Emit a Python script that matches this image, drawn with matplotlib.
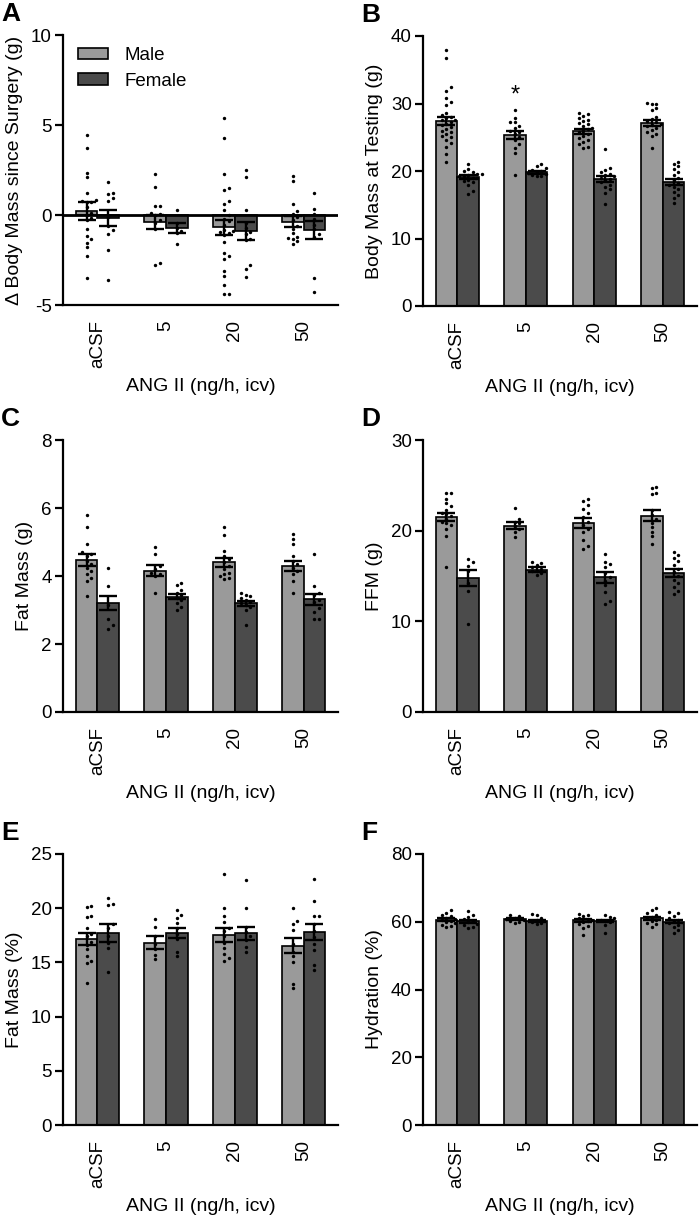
import matplotlib.pyplot as plt
import numpy as np
from matplotlib.patches import Patch

plt.rcParams['font.family'] = ['Liberation Sans', 'DejaVu Sans']
plt.rcParams['axes.unicode_minus'] = False

doses = ['aCSF', '5', '20', '50']
male_color = '#9a9a9a'
female_color = '#4b4b4b'

# A: change in body mass since surgery (g)
a_male_mean = [0.22, -0.38, -0.68, -0.38]
a_male_sem = [0.5, 0.4, 0.42, 0.3]
a_female_mean = [-0.18, -0.72, -0.88, -0.85]
a_female_sem = [0.45, 0.26, 0.5, 0.5]
a_male_pts = [
    [4.45, 3.75, 2.35, 2.1, 1.25, 0.85, 0.8, 0.75, 0.7, 0.45, 0.1, 0.0, -0.15, -0.25, -0.75, -1.15, -1.35, -1.55, -1.8, -2.3, -3.5],
    [2.3, 1.55, 0.5, 0.5, 0.1, 0.05, 0.0, -0.25, -0.45, -0.8, -2.65, -2.8],
    [5.4, 4.3, 2.3, 1.5, 1.4, 0.8, 0.6, 0.3, 0.0, -0.2, -0.35, -0.55, -0.85, -0.9, -0.95, -1.0, -1.1, -1.5, -2.1, -2.3, -2.45, -3.1, -3.4, -3.9, -4.4, -4.4],
    [2.15, 1.9, 0.6, 0.25, 0.05, -0.1, -0.25, -0.6, -0.75, -1.0, -1.2, -1.3, -1.35, -1.45, -1.6],
]
a_female_pts = [
    [1.85, 1.25, 1.15, 0.95, 0.8, -0.1, -0.6, -0.85, -1.05, -1.95, -3.6],
    [0.3, -0.45, -0.7, -0.9, -1.0, -1.6],
    [2.5, 2.1, 0.3, -0.45, -0.7, -0.95, -1.05, -1.35, -1.4, -2.8, -3.0, -3.45],
    [1.2, 0.35, 0.05, -0.2, -0.55, -0.8, -1.05, -1.2, -3.5, -4.3],
]

# B: body mass at testing (g)
b_male_mean = [27.4, 25.3, 25.9, 27.1]
b_male_sem = [0.65, 0.6, 0.35, 0.4]
b_female_mean = [19.05, 19.8, 18.85, 18.4]
b_female_sem = [0.3, 0.2, 0.45, 0.45]
b_male_pts = [
    [38.0, 36.7, 32.4, 31.8, 30.8, 30.2, 29.8, 28.6, 28.3, 28.0, 27.8, 27.6, 27.5, 27.3, 27.0, 26.8, 26.5, 26.2, 26.0, 25.8, 25.5, 25.2, 25.0, 24.6, 24.2, 23.6, 22.5, 21.3],
    [29.1, 27.9, 27.3, 27.2, 26.7, 26.3, 26.0, 25.8, 25.5, 25.1, 24.6, 24.0, 23.4, 22.6, 19.4],
    [28.6, 28.4, 28.1, 27.9, 27.6, 27.4, 27.1, 26.9, 26.7, 26.4, 26.2, 26.0, 25.8, 25.5, 25.2, 24.9, 24.6, 24.3, 24.0, 23.6, 23.4],
    [30.1, 30.0, 29.9, 29.3, 29.1, 28.0, 27.7, 27.4, 27.2, 27.0, 26.8, 26.6, 26.4, 26.1, 25.8, 25.5, 25.2, 23.4],
]
b_female_pts = [
    [21.0, 20.3, 20.0, 19.8, 19.6, 19.5, 19.4, 19.3, 19.2, 19.0, 18.9, 18.7, 18.5, 18.3, 18.0, 17.0, 16.6],
    [21.0, 20.7, 20.4, 20.2, 20.0, 19.9, 19.7, 19.5, 19.4, 19.3, 19.2],
    [23.2, 20.5, 20.2, 19.9, 19.6, 19.4, 19.2, 19.0, 18.8, 18.6, 18.3, 18.0, 17.7, 17.3, 16.8, 15.1],
    [21.4, 21.0, 20.7, 20.3, 19.8, 19.4, 19.0, 18.6, 18.2, 17.9, 17.6, 17.3, 16.9, 16.5, 16.0, 15.3],
]

# C: fat mass (g)
c_male_mean = [4.47, 4.16, 4.4, 4.3]
c_male_sem = [0.17, 0.17, 0.13, 0.15]
c_female_mean = [3.2, 3.39, 3.2, 3.31]
c_female_sem = [0.2, 0.08, 0.07, 0.17]
c_male_pts = [
    [5.8, 5.45, 4.95, 4.7, 4.65, 4.6, 4.45, 4.35, 4.25, 4.15, 4.05, 3.95, 3.85, 3.4],
    [4.85, 4.65, 4.3, 4.2, 4.1, 4.05, 4.0, 3.5],
    [5.45, 5.2, 4.75, 4.6, 4.5, 4.4, 4.3, 4.2, 4.1, 4.05, 4.0, 3.95, 3.9],
    [5.25, 5.1, 4.95, 4.6, 4.45, 4.35, 4.25, 4.15, 4.05, 3.85, 3.5],
]
c_female_pts = [
    [4.25, 3.7, 3.15, 2.75, 2.55, 2.45],
    [3.8, 3.75, 3.6, 3.5, 3.45, 3.35, 3.3, 3.2, 3.1, 3.0],
    [3.5, 3.45, 3.4, 3.35, 3.3, 3.25, 3.2, 3.15, 3.1, 3.0, 2.55],
    [4.65, 3.7, 3.5, 3.45, 3.3, 3.25, 3.05, 2.95, 2.75, 2.75],
]

# D: fat-free mass (g)
d_male_mean = [21.5, 20.55, 20.85, 21.65]
d_male_sem = [0.45, 0.4, 0.55, 0.6]
d_female_mean = [14.75, 15.7, 14.85, 15.3]
d_female_sem = [0.9, 0.25, 0.6, 0.45]
d_male_pts = [
    [24.2, 24.2, 23.5, 23.0, 22.7, 22.3, 22.0, 21.8, 21.6, 21.3, 21.0, 20.8, 20.6, 20.2, 19.4, 16.0],
    [22.5, 21.3, 21.0, 20.8, 20.5, 20.2, 19.8, 19.3],
    [23.5, 23.3, 22.8, 22.4, 21.9, 21.5, 21.0, 20.6, 20.2, 19.8, 19.0, 18.3, 18.0],
    [24.8, 24.7, 24.2, 24.0, 22.3, 21.7, 21.3, 20.9, 20.4, 19.9, 19.4, 18.5],
]
d_female_pts = [
    [16.9, 16.5, 16.1, 15.5, 14.2, 13.4, 9.7],
    [16.5, 16.4, 16.2, 16.0, 15.8, 15.6, 15.5, 15.3, 15.1],
    [17.4, 16.5, 16.3, 16.0, 15.3, 14.9, 14.5, 14.0, 13.2, 12.2, 11.9],
    [17.6, 17.3, 17.0, 16.6, 16.2, 15.8, 15.4, 15.0, 14.6, 14.2, 13.8, 13.4, 13.0],
]

# E: fat mass (%)
e_male_mean = [17.15, 16.8, 17.5, 16.55]
e_male_sem = [0.55, 0.6, 0.65, 0.7]
e_female_mean = [17.7, 17.7, 17.7, 17.8]
e_female_sem = [0.85, 0.45, 0.6, 0.75]
e_male_pts = [
    [20.2, 20.1, 19.3, 19.2, 18.2, 17.6, 17.4, 16.9, 16.6, 16.2, 15.6, 15.1, 14.9, 13.1],
    [19.0, 18.3, 17.4, 16.7, 16.2, 15.7, 15.3],
    [23.2, 20.0, 19.3, 18.7, 18.2, 17.9, 17.4, 16.8, 16.3, 15.8, 15.4, 15.1],
    [20.0, 18.8, 18.5, 18.0, 16.7, 16.0, 15.6, 15.0, 13.0, 12.6],
]
e_female_pts = [
    [20.9, 20.4, 20.3, 18.5, 18.2, 17.4, 16.8, 16.3, 14.1],
    [19.8, 19.4, 19.1, 18.6, 18.2, 17.6, 17.2, 16.0, 15.6],
    [22.6, 20.0, 18.3, 17.8, 17.4, 17.1, 16.4, 16.0],
    [22.7, 20.7, 19.3, 19.3, 18.5, 17.9, 17.3, 16.7, 16.1, 14.8, 14.3],
]

# F: hydration (%)
f_male_mean = [60.6, 60.8, 60.4, 61.0]
f_male_sem = [0.4, 0.3, 0.4, 0.5]
f_female_mean = [60.1, 60.3, 60.2, 60.0]
f_female_sem = [0.4, 0.35, 0.4, 0.5]
f_male_pts = [
    [63.6, 62.7, 62.1, 61.6, 61.2, 60.8, 60.5, 60.2, 59.9, 59.5, 59.0, 58.6, 58.4],
    [62.1, 61.7, 61.2, 60.9, 60.6, 60.3, 60.0, 59.7],
    [62.3, 62.0, 61.6, 61.0, 60.6, 60.3, 59.9, 59.4, 58.8, 58.3, 56.0],
    [64.0, 63.5, 62.6, 62.0, 61.5, 61.0, 60.6, 60.2, 59.7, 59.2, 58.5],
]
f_female_pts = [
    [63.2, 62.1, 61.4, 60.8, 60.3, 59.9, 59.4, 59.0, 58.4, 58.3],
    [62.2, 61.9, 61.1, 60.5, 60.0, 59.6, 59.2],
    [61.9, 61.5, 61.0, 60.6, 60.3, 59.9, 59.0, 56.6],
    [62.8, 62.5, 61.7, 61.1, 60.6, 60.1, 59.6, 59.1, 58.5, 57.6, 56.8],
]

panels = [
    ('A', 'Δ Body Mass since Surgery (g)', (-5, 10), [-5, 0, 5, 10],
     a_male_mean, a_male_sem, a_female_mean, a_female_sem, a_male_pts, a_female_pts),
    ('B', 'Body Mass at Testing (g)', (0, 40), [0, 10, 20, 30, 40],
     b_male_mean, b_male_sem, b_female_mean, b_female_sem, b_male_pts, b_female_pts),
    ('C', 'Fat Mass (g)', (0, 8), [0, 2, 4, 6, 8],
     c_male_mean, c_male_sem, c_female_mean, c_female_sem, c_male_pts, c_female_pts),
    ('D', 'FFM (g)', (0, 30), [0, 10, 20, 30],
     d_male_mean, d_male_sem, d_female_mean, d_female_sem, d_male_pts, d_female_pts),
    ('E', 'Fat Mass (%)', (0, 25), [0, 5, 10, 15, 20, 25],
     e_male_mean, e_male_sem, e_female_mean, e_female_sem, e_male_pts, e_female_pts),
    ('F', 'Hydration (%)', (0, 80), [0, 20, 40, 60, 80],
     f_male_mean, f_male_sem, f_female_mean, f_female_sem, f_male_pts, f_female_pts),
]

W, H = 700, 1221
fig = plt.figure(figsize=(W / 100, H / 100), dpi=100)

# axes boxes in pixels: left, top, right, bottom
boxes = [
    (63, 35, 338, 305), (423, 36, 697, 306),
    (63, 440, 338, 712), (423, 440, 697, 712),
    (63, 854, 338, 1125), (423, 854, 697, 1125),
]

bw = 0.315
x = np.arange(len(doses))


def swarm(ax, x0, vals, gap=4.5):
    vals = sorted(vals)
    disp = ax.transData.transform(np.column_stack([np.full(len(vals), x0), vals]))
    placed = []
    for px, py in disp:
        cx = px
        for step in range(60):
            off = ((step + 1) // 2) * (1 if step % 2 else -1) * gap
            cx = px + off
            if all((cx - qx) ** 2 + (py - qy) ** 2 >= 0.9 * gap ** 2 for qx, qy in placed):
                break
        placed.append((cx, py))
    back = ax.transData.inverted().transform(np.array(placed))
    return back[:, 0], back[:, 1]


for (letter, ylabel, ylim, yticks, mm, ms, fm, fs, mp, fp), (l, t, r, b) in zip(panels, boxes):
    ax = fig.add_axes([l / W, 1 - b / H, (r - l) / W, (b - t) / H])
    ax.set_xlim(-0.5, 3.5)
    ax.set_ylim(*ylim)
    ax.set_yticks(yticks)
    ax.set_xticks(x)
    ax.set_xticklabels(doses, rotation=90, fontsize=13.5)
    ax.tick_params(axis='x', length=0, pad=11)
    ax.tick_params(axis='y', length=6, width=1.6, labelsize=13.5, pad=2)
    for s in ['top', 'right']:
        ax.spines[s].set_visible(False)
    for s in ['left', 'bottom']:
        ax.spines[s].set_linewidth(1.6)

    ax.bar(x - bw / 2, mm, bw, color=male_color, edgecolor='black', linewidth=1.2, zorder=1)
    ax.bar(x + bw / 2, fm, bw, color=female_color, edgecolor='black', linewidth=1.2, zorder=1)
    for i in range(len(doses)):
        sx, sy = swarm(ax, x[i] - bw / 2, mp[i])
        ax.scatter(sx, sy, s=6, color='black', zorder=3, linewidths=0)
        sx, sy = swarm(ax, x[i] + bw / 2, fp[i])
        ax.scatter(sx, sy, s=6, color='black', zorder=3, linewidths=0)
    ax.errorbar(x - bw / 2, mm, yerr=ms, fmt='none', ecolor='black', elinewidth=1.7,
                capsize=6.5, capthick=1.7, zorder=4)
    ax.errorbar(x + bw / 2, fm, yerr=fs, fmt='none', ecolor='black', elinewidth=1.7,
                capsize=6.5, capthick=1.7, zorder=4)

    if letter == 'A':
        ax.axhline(0, color='black', linewidth=2, zorder=2)
        handles = [Patch(facecolor=male_color, edgecolor='black', linewidth=1.2, label='Male'),
                   Patch(facecolor=female_color, edgecolor='black', linewidth=1.2, label='Female')]
        ax.legend(handles=handles, loc='upper left', bbox_to_anchor=(0.055, 0.955), frameon=False,
                  fontsize=13.5, handlelength=1.6, handleheight=0.55, labelspacing=0.45,
                  handletextpad=0.9, borderpad=0, borderaxespad=0)
    if letter == 'B':
        ax.text(x[1] - bw / 2, 31.2, '*', ha='center', va='center', fontsize=17)

    ax.set_ylabel(ylabel, fontsize=14, labelpad=6)
    ax.set_xlabel('ANG II (ng/h, icv)', fontsize=14, labelpad=7)
    fig.text((l - 62) / W, 1 - (t - 33) / H, letter, fontsize=19, fontweight='bold',
             ha='left', va='top')

fig.savefig('out.png', dpi=100)
